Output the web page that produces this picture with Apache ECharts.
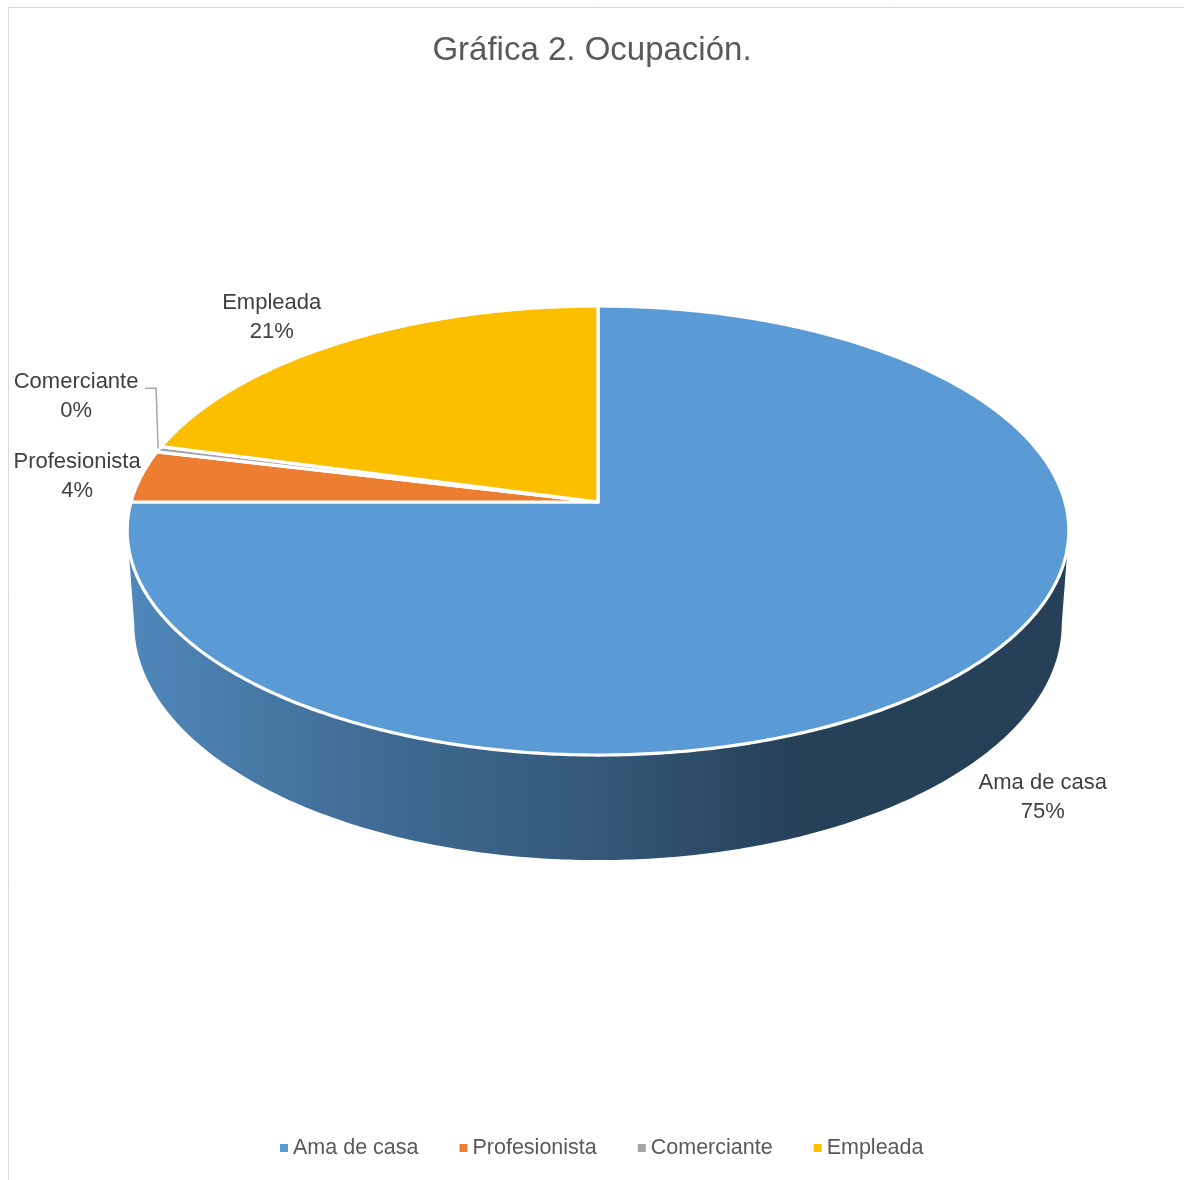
<!DOCTYPE html>
<html>
<head>
<meta charset="utf-8">
<title>Gráfica 2. Ocupación.</title>
<script src="https://cdn.jsdelivr.net/npm/echarts@6/dist/echarts.min.js"></script>
<style>
  html, body { margin: 0; padding: 0; background: #ffffff; }
  #chart { width: 1184px; height: 1180px; }
</style>
</head>
<body>
<div id="chart"></div>
<script>
// Occupation categories and respondent counts
const categories = ['Ama de casa', 'Profesionista', 'Comerciante', 'Empleada'];
const counts = [180, 9, 1, 50];
const titleText = 'Gráfica 2. Ocupación.';

// Slice colours (top face); the side wall is a shaded version of the same colour
const palette = ['#5B9BD5', '#ED7D31', '#A5A5A5', '#FBBF00'];

// Perspective disc: centre, half-axes, tilt (k), wall depth and bottom-face shrink
const disc = { cx: 598, cy: 502, A: 467, B: 220.9, k: 0.127, D: 91.7, s: 0.985 };

// Label placement relative to the rim point at each slice's mid-angle
const labelPlacement = [
  { dx: 82, dy: 124, leader: false },
  { dx: -64, dy: 0, leader: false },
  { dx: -83, dy: -53, leader: true },
  { dx: -68, dy: -25, leader: false }
];

const FONT = "'Liberation Sans', Arial, sans-serif";
const total = counts.reduce((a, b) => a + b, 0);

// cumulative angles, clockwise from 12 o'clock
const startAngles = [];
let acc = 0;
counts.forEach(c => { startAngles.push(acc / total * Math.PI * 2); acc += c; });
const endAngles = counts.map((c, i) => startAngles[i] + c / total * Math.PI * 2);

// project a point of the disc (angle clockwise from top, radius fraction) to screen
function project(theta, r, bottom) {
  const u = r * Math.sin(theta);
  const v = -r * Math.cos(theta);
  const w = 1 - disc.k * v;
  const sx = bottom ? disc.s : 1;
  return [
    disc.cx + sx * disc.A * u / w,
    disc.cy + disc.B * v / w + (bottom ? disc.D / w : 0)
  ];
}

function arcPoints(a0, a1, bottom) {
  const n = Math.max(2, Math.ceil(Math.abs(a1 - a0) / 0.01));
  const pts = [];
  for (let j = 0; j <= n; j++) pts.push(project(a0 + (a1 - a0) * j / n, 1, bottom));
  return pts;
}

function shade(hex, f) {
  const n = parseInt(hex.slice(1), 16);
  const r = Math.round(((n >> 16) & 255) * f);
  const g = Math.round(((n >> 8) & 255) * f);
  const b = Math.round((n & 255) * f);
  return 'rgb(' + r + ',' + g + ',' + b + ')';
}

// the outer wall is visible between the right and left silhouettes
const silR = Math.acos(-disc.k);
const silL = Math.PI * 2 - silR;

function makeRenderer(i) {
  return function (params, api) {
    const a0 = startAngles[i], a1 = endAngles[i];
    const color = palette[i];
    const children = [];

    // outer wall
    const w0 = Math.max(a0, silR), w1 = Math.min(a1, silL);
    if (w1 > w0) {
      const top = arcPoints(w0, w1, false);
      const bot = arcPoints(w0, w1, true).reverse();
      const xl = disc.cx - disc.A * 1.01, xr = disc.cx + disc.A * 1.01;
      children.push({
        type: 'polygon',
        shape: { points: top.concat(bot) },
        style: {
          fill: new echarts.graphic.LinearGradient(xl, 0, xr, 0, [
            { offset: 0, color: shade(color, 0.88) },
            { offset: 0.08, color: shade(color, 0.82) },
            { offset: 0.29, color: shade(color, 0.68) },
            { offset: 0.5, color: shade(color, 0.57) },
            { offset: 0.66, color: shade(color, 0.45) },
            { offset: 0.72, color: shade(color, 0.41) },
            { offset: 1, color: shade(color, 0.41) }
          ], true),
          stroke: null
        }
      });
    }

    // top face
    const face = [[disc.cx, disc.cy]].concat(arcPoints(a0, a1, false));
    children.push({
      type: 'polygon',
      shape: { points: face },
      style: { fill: color, stroke: '#ffffff', lineWidth: 3.2, lineJoin: 'round' }
    });

    // data label
    const mid = (a0 + a1) / 2;
    const rim = project(mid, 1, false);
    const lp = labelPlacement[i];
    const lx = rim[0] + lp.dx, ly = rim[1] + lp.dy;
    const pct = Math.round(counts[i] / total * 100);
    if (lp.leader) {
      const yLine = ly - 8;
      children.push({
        type: 'polyline',
        shape: { points: [[rim[0] - 1, rim[1] - 1], [rim[0] - 3, yLine], [rim[0] - 14, yLine]] },
        style: { stroke: '#a6a6a6', lineWidth: 1.5, fill: null }
      });
    }
    children.push({
      type: 'text',
      style: {
        text: categories[i] + '\n' + pct + '%',
        x: lx,
        y: ly,
        align: 'center',
        verticalAlign: 'middle',
        fill: '#404040',
        fontSize: 22,
        fontFamily: FONT,
        lineHeight: 29
      }
    });

    return { type: 'group', children: children };
  };
}

const chart = echarts.init(document.getElementById('chart'), null, { renderer: 'canvas' });

chart.setOption({
  animation: false,
  backgroundColor: '#ffffff',
  title: {
    text: titleText,
    left: 'center',
    top: 29,
    textStyle: { fontSize: 33, fontWeight: 'normal', color: '#595959', fontFamily: FONT }
  },
  legend: {
    data: categories,
    left: 275,
    top: 1132,
    icon: 'rect',
    itemWidth: 8,
    itemHeight: 8,
    itemGap: 41,
    textStyle: { fontSize: 21.5, color: '#595959', fontFamily: FONT }
  },
  graphic: [
    {
      type: 'rect',
      shape: { x: 8.5, y: 7.5, width: 1300, height: 1300 },
      style: { fill: null, stroke: '#d9d9d9', lineWidth: 1 },
      silent: true
    }
  ],
  series: categories.map((name, i) => ({
    type: 'custom',
    name: name,
    coordinateSystem: 'none',
    itemStyle: { color: palette[i] },
    data: [{ name: name, value: counts[i] }],
    renderItem: makeRenderer(i)
  }))
});
</script>
</body>
</html>
